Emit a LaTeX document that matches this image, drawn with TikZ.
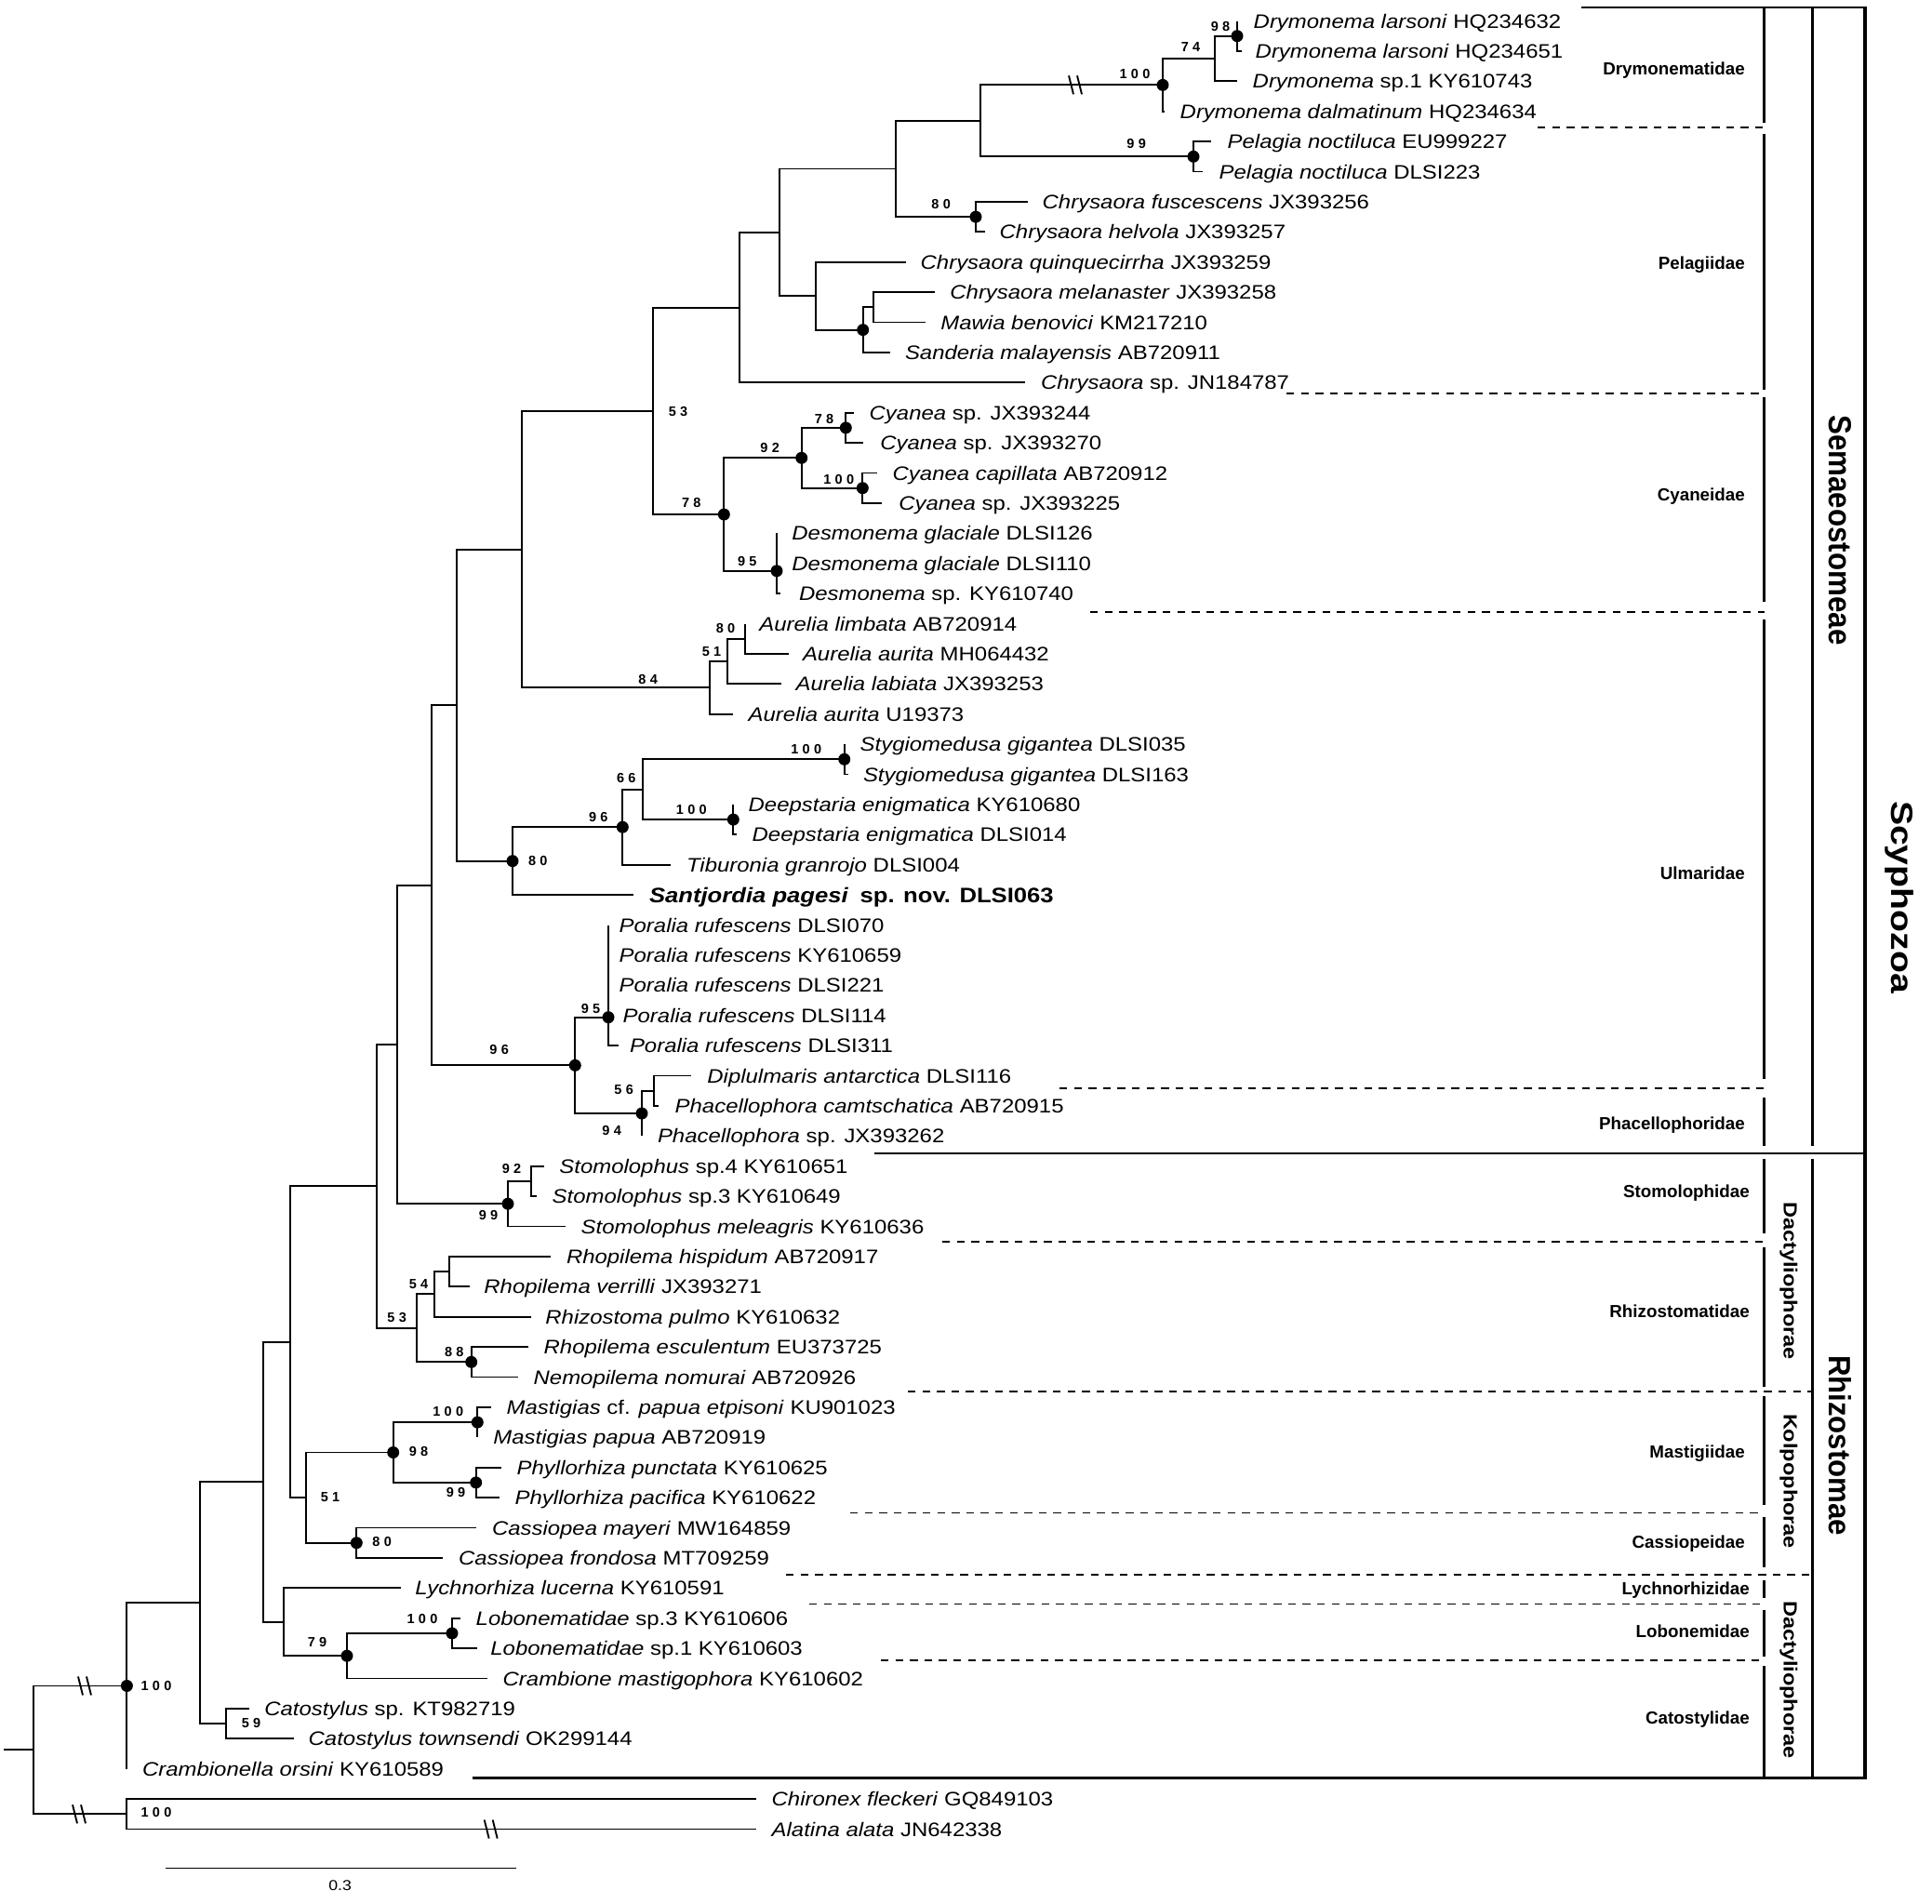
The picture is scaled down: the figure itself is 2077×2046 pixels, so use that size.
\documentclass[tikz,border=0pt]{standalone}
\usepackage{graphicx}
\usepackage{fontspec}
\setmainfont{Liberation Sans}[FakeStretch=1.14]
\newfontfamily\plainfont{Liberation Sans}
\newfontfamily\bsfont{Liberation Sans}[LetterSpace=30]
\newcommand\Lf[5]{%
  \pgfmathsetmacro\lfy{22.5+32.4*(#1-1)}%
  \coordinate (L#1) at (#2,\lfy);%
  \node[lab,#4] (t#1) at (#3-0.5,\lfy+7.5) {#5};%
}
\newcommand\Ed[2]{\draw[br] (#1) |- (#2);}
\newcommand\Brk[2]{\draw[brk] (#1-7,#2-10) -- (#1-2,#2+10) (#1+2,#2-10) -- (#1+7,#2+10);}
\tikzset{
  br/.style={line width=1.9pt},
  brk/.style={line width=1.9pt},
  bdot/.style={fill=black},
  lab/.style={anchor=base west, inner sep=0pt, font=\fontsize{21}{21}\selectfont},
  bs/.style={inner sep=0pt, font=\bsfont\bfseries\fontsize{14.5}{14.5}\selectfont},
  fam/.style={anchor=base east, inner sep=0pt, font=\plainfont\bfseries\fontsize{18.8}{18.8}\selectfont},
  famline/.style={line width=2.7pt},
  dline/.style={line width=1.6pt, dash pattern=on 8.3pt off 7.3pt},
  sline/.style={line width=2.2pt},
}
\begin{document}
\begin{tikzpicture}[x=1pt,y=-1pt]
\useasboundingbox (0,0) rectangle (2077,2046);
% ---------------- leaves ----------------
\Lf{1}{1330}{1348}{}{\textit{Drymonema larsoni} HQ234632}
\Lf{2}{1335}{1350}{}{\textit{Drymonema larsoni} HQ234651}
\Lf{3}{1330}{1347}{}{\textit{Drymonema} sp.1 KY610743}
\Lf{4}{1252}{1269}{}{\textit{Drymonema dalmatinum} HQ234634}
\Lf{5}{1302}{1320}{}{\textit{Pelagia noctiluca} EU999227}
\Lf{6}{1293}{1311}{}{\textit{Pelagia noctiluca} DLSI223}
\Lf{7}{1105}{1121}{}{\textit{Chrysaora fuscescens} JX393256}
\Lf{8}{1059}{1075}{}{\textit{Chrysaora helvola} JX393257}
\Lf{9}{974.3}{990}{}{\textit{Chrysaora quinquecirrha} JX393259}
\Lf{10}{1005}{1021.7}{}{\textit{Chrysaora melanaster} JX393258}
\Lf{11}{995}{1011.7}{}{\textit{Mawia benovici} KM217210}
\Lf{12}{956.7}{973.3}{}{\textit{Sanderia malayensis} AB720911}
\Lf{13}{1101.7}{1119.3}{}{\textit{Chrysaora} sp. JN184787}
\Lf{14}{918.3}{935}{}{\textit{Cyanea} sp. JX393244}
\Lf{15}{928.3}{946.7}{}{\textit{Cyanea} sp. JX393270}
\Lf{16}{943.3}{960}{}{\textit{Cyanea capillata} AB720912}
\Lf{17}{947.7}{966.7}{}{\textit{Cyanea} sp. JX393225}
\Lf{18}{835}{851.7}{}{\textit{Desmonema glaciale} DLSI126}
\Lf{19}{835}{851.7}{}{\textit{Desmonema glaciale} DLSI110}
\Lf{20}{839.3}{859.3}{}{\textit{Desmonema} sp. KY610740}
\Lf{21}{800.7}{816.7}{}{\textit{Aurelia limbata} AB720914}
\Lf{22}{847.7}{863.3}{}{\textit{Aurelia aurita} MH064432}
\Lf{23}{840}{856}{}{\textit{Aurelia labiata} JX393253}
\Lf{24}{788.3}{805}{}{\textit{Aurelia aurita} U19373}
\Lf{25}{907.7}{925}{}{\textit{Stygiomedusa gigantea} DLSI035}
\Lf{26}{912.3}{928.3}{}{\textit{Stygiomedusa gigantea} DLSI163}
\Lf{27}{788.3}{805}{}{\textit{Deepstaria enigmatica} KY610680}
\Lf{28}{791.7}{809}{}{\textit{Deepstaria enigmatica} DLSI014}
\Lf{29}{720.7}{738.3}{}{\textit{Tiburonia granrojo} DLSI004}
\Lf{30}{681}{698.3}{font=\bfseries\fontsize{22.5}{22.5}\selectfont, yshift=-1pt}{\textit{Santjordia pagesi}\hspace{0.55em}sp. nov. DLSI063}
\Lf{31}{654}{666}{}{\textit{Poralia rufescens} DLSI070}
\Lf{32}{654}{666}{}{\textit{Poralia rufescens} KY610659}
\Lf{33}{654}{666}{}{\textit{Poralia rufescens} DLSI221}
\Lf{34}{654}{670}{}{\textit{Poralia rufescens} DLSI114}
\Lf{35}{665}{677.3}{}{\textit{Poralia rufescens} DLSI311}
\Lf{36}{743.3}{760.7}{}{\textit{Diplulmaris antarctica} DLSI116}
\Lf{37}{708.3}{726}{}{\textit{Phacellophora camtschatica} AB720915}
\Lf{38}{690}{707.3}{}{\textit{Phacellophora} sp. JX393262}
\Lf{39}{585}{601.7}{}{\textit{Stomolophus} sp.4 KY610651}
\Lf{40}{576.7}{594}{}{\textit{Stomolophus} sp.3 KY610649}
\Lf{41}{608.3}{625}{}{\textit{Stomolophus meleagris} KY610636}
\Lf{42}{591.7}{609.3}{}{\textit{Rhopilema hispidum} AB720917}
\Lf{43}{505}{520.7}{}{\textit{Rhopilema verrilli} JX393271}
\Lf{44}{570.7}{586.7}{}{\textit{Rhizostoma pulmo} KY610632}
\Lf{45}{568.3}{585}{}{\textit{Rhopilema esculentum} EU373725}
\Lf{46}{556.7}{574}{}{\textit{Nemopilema nomurai} AB720926}
\Lf{47}{528.3}{545}{}{\textit{Mastigias} cf. \textit{papua etpisoni} KU901023}
\Lf{48}{513.3}{530.7}{}{\textit{Mastigias papua} AB720919}
\Lf{49}{539.3}{556}{}{\textit{Phyllorhiza punctata} KY610625}
\Lf{50}{537.3}{554}{}{\textit{Phyllorhiza pacifica} KY610622}
\Lf{51}{512.3}{529.3}{}{\textit{Cassiopea mayeri} MW164859}
\Lf{52}{476}{493.3}{}{\textit{Cassiopea frondosa} MT709259}
\Lf{53}{431}{446.7}{}{\textit{Lychnorhiza lucerna} KY610591}
\Lf{54}{495}{512}{}{\textit{Lobonematidae} sp.3 KY610606}
\Lf{55}{512.6}{527.7}{}{\textit{Lobonematidae} sp.1 KY610603}
\Lf{56}{524}{541}{}{\textit{Crambione mastigophora} KY610602}
\Lf{57}{268}{284.6}{}{\textit{Catostylus} sp. KT982719}
\Lf{58}{316}{332}{}{\textit{Catostylus townsendi} OK299144}
\Lf{59}{136.4}{153.4}{}{\textit{Crambionella orsini} KY610589}
\Lf{60}{813.3}{830}{}{\textit{Chironex fleckeri} GQ849103}
\Lf{61}{813.3}{830}{}{\textit{Alatina alata} JN642338}
% ---------------- internal nodes ----------------
\coordinate (Rs) at (4,1881.4);
\coordinate (R) at (36.4,1881.4);
\coordinate (nS) at (136.4,1812.45);
\coordinate (nC) at (136.4,1950.3);
\coordinate (n2) at (214.7,1723.2);
\coordinate (nCat) at (242.7,1853.1);
\coordinate (n3) at (282.6,1593.25);
\coordinate (nLy) at (305,1743.75);
\coordinate (nLo) at (373,1780.2);
\coordinate (nLb) at (486,1755.9);
\coordinate (n4) at (312.3,1442.75);
\coordinate (nK) at (329.3,1610.1);
\coordinate (nMP) at (422.7,1561.5);
\coordinate (nMa) at (513.3,1529.1);
\coordinate (nPh) at (511.7,1593.9);
\coordinate (nCa) at (383.3,1658.7);
\coordinate (n5) at (405,1275.4);
\coordinate (nA) at (448.3,1427.85);
\coordinate (nB) at (466.7,1391.4);
\coordinate (nCc) at (483.3,1367.1);
\coordinate (nD) at (506.7,1464.3);
\coordinate (n6) at (426.7,1122.95);
\coordinate (nSt) at (546,1294.2);
\coordinate (nSt2) at (571,1269.9);
\coordinate (n7) at (464.3,951.7);
\coordinate (nPP) at (618.3,1145.35);
\coordinate (nPo) at (654,1093.7);
\coordinate (nPc) at (690,1197);
\coordinate (nPc2) at (702.7,1172.7);
\coordinate (n8) at (491,758.1);
\coordinate (nU) at (551,925.65);
\coordinate (nU2) at (669.3,889.2);
\coordinate (nU3) at (690.7,848.7);
\coordinate (nSg) at (907.7,816.3);
\coordinate (nDp) at (788.3,881.1);
\coordinate (n9) at (561,590.6);
\coordinate (nAu) at (762.7,739.35);
\coordinate (nAu2) at (781.7,711);
\coordinate (nAu3) at (800.7,686.7);
\coordinate (n10) at (702.3,441.8);
\coordinate (nCD) at (778.3,553.05);
\coordinate (nCy) at (861.7,492.3);
\coordinate (nCy1) at (909.3,459.9);
\coordinate (nCy2) at (927.3,524.7);
\coordinate (nDe) at (835,613.8);
\coordinate (nDe2) at (835,589.5);
\coordinate (n11) at (795,330.6);
\coordinate (n12) at (837.7,249.8);
\coordinate (n13) at (962.7,181.5);
\coordinate (n14) at (877.3,318.2);
\coordinate (nSa) at (927.7,354.6);
\coordinate (nSa2) at (939,330.3);
\coordinate (n15) at (1054,129.8);
\coordinate (nCh) at (1049,233.1);
\coordinate (nDr) at (1250,91.35);
\coordinate (nDr2) at (1306,63);
\coordinate (nDr3) at (1330,38.7);
\coordinate (nPe) at (1283,168.3);
% ---------------- branches ----------------
\draw[br] (Rs) -- (R);
\Ed{R}{nS}\Ed{R}{nC}
\Ed{nS}{n2}\Ed{nS}{L59}
\Ed{nC}{L60}\Ed{nC}{L61}
\Ed{n2}{n3}\Ed{n2}{nCat}
\Ed{nCat}{L57}\Ed{nCat}{L58}
\Ed{n3}{n4}\Ed{n3}{nLy}
\Ed{nLy}{L53}\Ed{nLy}{nLo}
\Ed{nLo}{nLb}\Ed{nLo}{L56}
\Ed{nLb}{L54}\Ed{nLb}{L55}
\Ed{n4}{n5}\Ed{n4}{nK}
\Ed{nK}{nMP}\Ed{nK}{nCa}
\Ed{nMP}{nMa}\Ed{nMP}{nPh}
\Ed{nMa}{L47}\Ed{nMa}{L48}
\Ed{nPh}{L49}\Ed{nPh}{L50}
\Ed{nCa}{L51}\Ed{nCa}{L52}
\Ed{n5}{n6}\Ed{n5}{nA}
\Ed{nA}{nB}\Ed{nA}{nD}
\Ed{nB}{nCc}\Ed{nB}{L44}
\Ed{nCc}{L42}\Ed{nCc}{L43}
\Ed{nD}{L45}\Ed{nD}{L46}
\Ed{n6}{n7}\Ed{n6}{nSt}
\Ed{nSt}{nSt2}\Ed{nSt}{L41}
\Ed{nSt2}{L39}\Ed{nSt2}{L40}
\Ed{n7}{n8}\Ed{n7}{nPP}
\Ed{nPP}{nPo}\Ed{nPP}{nPc}
\Ed{nPo}{L31}\Ed{nPo}{L35}
\Ed{nPc}{nPc2}\Ed{nPc}{L38}
\Ed{nPc2}{L36}\Ed{nPc2}{L37}
\Ed{n8}{n9}\Ed{n8}{nU}
\Ed{nU}{nU2}\Ed{nU}{L30}
\Ed{nU2}{nU3}\Ed{nU2}{L29}
\Ed{nU3}{nSg}\Ed{nU3}{nDp}
\Ed{nSg}{L25}\Ed{nSg}{L26}
\Ed{nDp}{L27}\Ed{nDp}{L28}
\Ed{n9}{n10}\Ed{n9}{nAu}
\Ed{nAu}{nAu2}\Ed{nAu}{L24}
\Ed{nAu2}{nAu3}\Ed{nAu2}{L23}
\Ed{nAu3}{L21}\Ed{nAu3}{L22}
\Ed{n10}{n11}\Ed{n10}{nCD}
\Ed{nCD}{nCy}\Ed{nCD}{nDe}
\Ed{nCy}{nCy1}\Ed{nCy}{nCy2}
\Ed{nCy1}{L14}\Ed{nCy1}{L15}
\Ed{nCy2}{L16}\Ed{nCy2}{L17}
\Ed{nDe}{nDe2}\Ed{nDe}{L20}
\Ed{nDe2}{L18}\Ed{nDe2}{L19}
\Ed{n11}{n12}\Ed{n11}{L13}
\Ed{n12}{n13}\Ed{n12}{n14}
\Ed{n13}{n15}\Ed{n13}{nCh}
\Ed{nCh}{L7}\Ed{nCh}{L8}
\Ed{n15}{nDr}\Ed{n15}{nPe}
\Ed{nDr}{nDr2}\Ed{nDr}{L4}
\Ed{nDr2}{nDr3}\Ed{nDr2}{L3}
\Ed{nDr3}{L1}\Ed{nDr3}{L2}
\Ed{nPe}{L5}\Ed{nPe}{L6}
\Ed{n14}{L9}\Ed{n14}{nSa}
\Ed{nSa}{nSa2}\Ed{nSa}{L12}
\Ed{nSa2}{L10}\Ed{nSa2}{L11}
% break marks
\Brk{91}{1812.45}
\Brk{85}{1950.3}
\Brk{527.7}{1966.5}
\Brk{1156}{91.35}
% dots
\foreach \d in {nS,nLo,nLb,nMP,nMa,nPh,nCa,nD,nSt,nPP,nPo,nPc,nU,nU2,nSg,nDp,nCD,nCy,nCy1,nCy2,nDe,nCh,nDr,nDr3,nPe,nSa}
  \fill[bdot] (\d) circle[radius=6.5];
% ---------------- bootstrap values ----------------
\node[bs] (b1) at (1312,28.3) {98};
\node[bs] (b2) at (1280,50.7) {74};
\node[bs] (b3) at (1220,80) {100};
\node[bs] (b4) at (1221.7,155) {99};
\node[bs] (b5) at (1011.7,220) {80};
\node[bs] (b6) at (729,442.7) {53};
\node[bs] (b7) at (743.3,540.7) {78};
\node[bs] (b8) at (827.7,481.7) {92};
\node[bs] (b9) at (886,450.7) {78};
\node[bs] (b10) at (901.7,515) {100};
\node[bs] (b11) at (803.3,603.3) {95};
\node[bs] (b12) at (696.7,730) {84};
\node[bs] (b13) at (765,700.7) {51};
\node[bs] (b14) at (780,675) {80};
\node[bs] (b15) at (866.7,805.7) {100};
\node[bs] (b16) at (673.3,836.7) {66};
\node[bs] (b17) at (743.3,870.7) {100};
\node[bs] (b18) at (643.3,878.3) {96};
\node[bs] (b19) at (578.3,925) {80};
\node[bs] (b20) at (536.7,1128.3) {96};
\node[bs] (b21) at (635,1084) {95};
\node[bs] (b22) at (670.7,1171.7) {56};
\node[bs] (b23) at (657.7,1215) {94};
\node[bs] (b24) at (550,1256.7) {92};
\node[bs] (b25) at (525,1306.7) {99};
\node[bs] (b26) at (450,1380.7) {54};
\node[bs] (b27) at (426.7,1416.7) {53};
\node[bs] (b28) at (488.3,1453.3) {88};
\node[bs] (b29) at (481.7,1517.3) {100};
\node[bs] (b30) at (450,1560) {98};
\node[bs] (b31) at (490,1604) {99};
\node[bs] (b32) at (355,1609.3) {51};
\node[bs] (b33) at (410.7,1657.7) {80};
\node[bs] (b34) at (454,1740) {100};
\node[bs] (b35) at (341,1765.7) {79};
\node[bs] (b36) at (270,1852) {59};
\node[bs] (b37) at (168,1812.45) {100};
\node[bs] (b38) at (168,1948.3) {100};
% ---------------- scale bar ----------------
\coordinate (sb1) at (178,2008.3);
\coordinate (sb2) at (554.6,2008.3);
\draw[line width=1.6pt] (sb1) -- (sb2);
\node[inner sep=0pt, font=\fontsize{15.5}{15.5}\selectfont] (sbl) at (365.6,2026.7) {0.3};
% ---------------- brackets ----------------
\draw[sline] (1700,8) -- (2005,8);
\draw[line width=4pt] (2005,6.5) -- (2005,1912.5);
\draw[famline] (1948.3,8) -- (1948.3,1231.7) (1948.3,1246) -- (1948.3,1910);
\draw[famline] (1896.7,8) -- (1896.7,131.5) (1896.7,143.5) -- (1896.7,418.5)
  (1896.7,426.5) -- (1896.7,647.3) (1896.7,665.7) -- (1896.7,1160)
  (1896.7,1180) -- (1896.7,1231.7) (1896.7,1246) -- (1896.7,1326)
  (1896.7,1340.6) -- (1896.7,1490.8) (1896.7,1500.5) -- (1896.7,1617.8)
  (1896.7,1631) -- (1896.7,1684.7) (1896.7,1699) -- (1896.7,1717.7)
  (1896.7,1730.7) -- (1896.7,1780.7) (1896.7,1791) -- (1896.7,1910);
\draw[sline] (940,1239.7) -- (2005,1239.7);
\draw[line width=2.5pt] (508,1911.5) -- (2007,1911.5);
\draw[dline] (1653,137) -- (1896.7,137);
\draw[dline] (1383,422.7) -- (1896.7,422.7);
\draw[dline] (1172,657.7) -- (1896.7,657.7);
\draw[dline] (1139,1170) -- (1896.7,1170);
\draw[dline] (1013,1334.7) -- (1896.7,1334.7);
\draw[dline] (976,1495.7) -- (1948.3,1495.7);
\draw[dline] (914,1626.5) -- (1896.7,1626.5);
\draw[dline] (845,1693) -- (1948.3,1693);
\draw[dline] (870,1724.5) -- (1896.7,1724.5);
\draw[dline] (947,1785) -- (1896.7,1785);
% family labels
\node[fam] (f1) at (1876,80) {Drymonematidae};
\node[fam] (f2) at (1876,289.7) {Pelagiidae};
\node[fam] (f3) at (1876,538.4) {Cyaneidae};
\node[fam] (f4) at (1876,945) {Ulmaridae};
\node[fam] (f5) at (1876,1214.5) {Phacellophoridae};
\node[fam] (f6) at (1881,1287.7) {Stomolophidae};
\node[fam] (f7) at (1881,1416.6) {Rhizostomatidae};
\node[fam] (f8) at (1876,1567.7) {Mastigiidae};
\node[fam] (f9) at (1876,1664.7) {Cassiopeidae};
\node[fam] (f10) at (1881,1714.7) {Lychnorhizidae};
\node[fam] (f11) at (1881,1760.7) {Lobonemidae};
\node[fam] (f12) at (1881,1853.7) {Catostylidae};
% rotated labels
\node[rotate=-90, inner sep=0pt] (o1) at (1978.7,570) {\resizebox{247pt}{24pt}{\plainfont\bfseries Semaeostomeae}};
\node[rotate=-90, inner sep=0pt] (o2) at (1978.7,1554) {\resizebox{194pt}{24pt}{\plainfont\bfseries Rhizostomae}};
\node[rotate=-90, inner sep=0pt] (c1) at (2042,964.5) {\resizebox*{207pt}{30.7pt}{\plainfont\bfseries Scyphozoa}};
\node[rotate=-90, inner sep=0pt] (i1) at (1922.8,1377) {\resizebox*{170pt}{19pt}{\plainfont\bfseries Dactyliophorae}};
\node[rotate=-90, inner sep=0pt] (i2) at (1922.8,1592.5) {\resizebox*{145pt}{19pt}{\plainfont\bfseries Kolpophorae}};
\node[rotate=-90, inner sep=0pt] (i3) at (1922.8,1806) {\resizebox*{170pt}{19pt}{\plainfont\bfseries Dactyliophorae}};
\end{tikzpicture}
\end{document}
